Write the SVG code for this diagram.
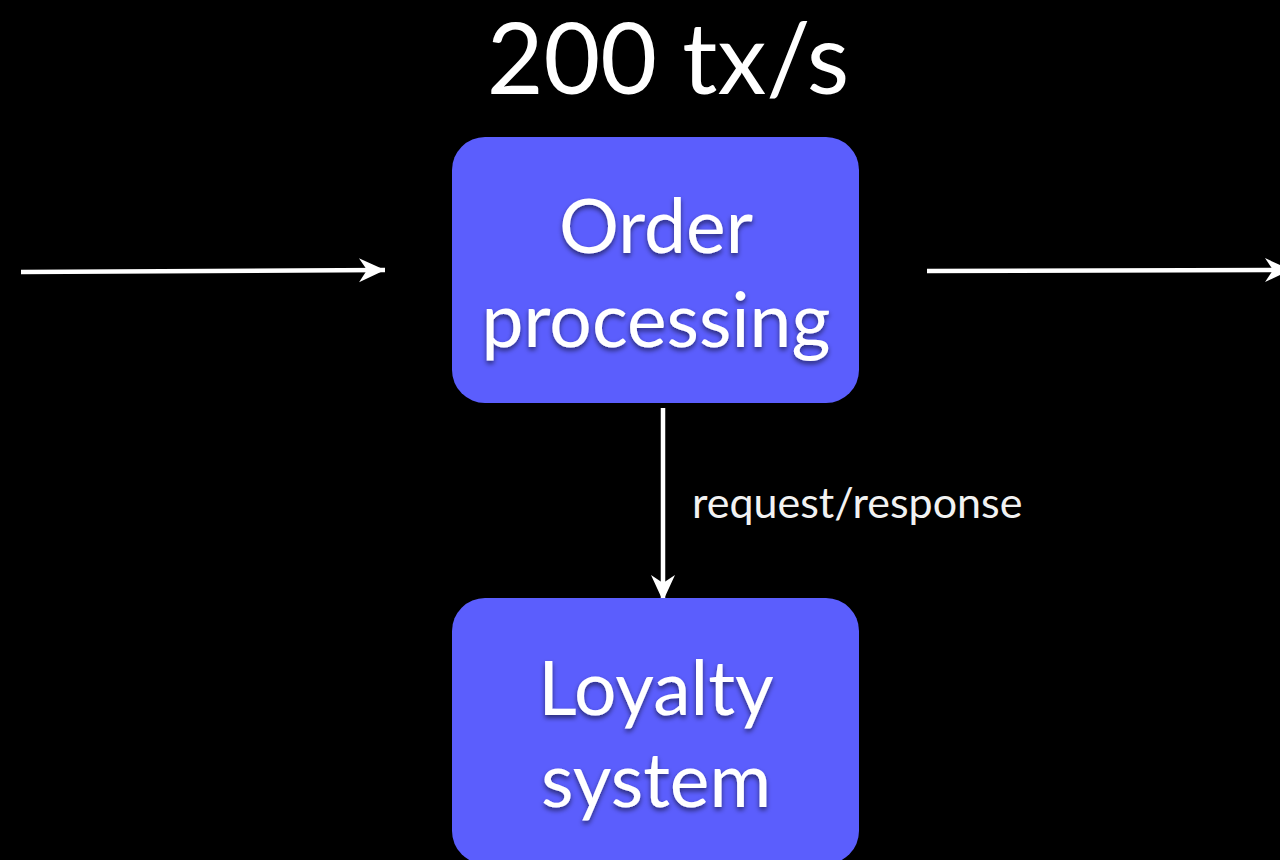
<svg xmlns="http://www.w3.org/2000/svg" width="1280" height="860" viewBox="0 0 1280 860">
  <defs>
    <style>
      .box { fill: #5B5EFD; }
      .label { font-family: Lato, "Open Sans", "Liberation Sans", sans-serif; fill: #ffffff; text-anchor: middle; }
      .node-text { font-size: 75px; filter: url(#textShadow); }
      .title { font-size: 98px; }
      .edge-label { font-size: 43px; text-anchor: start; fill: #f2f2f2; }
      .wire { stroke: #ffffff; stroke-width: 4.5; fill: none; }
    </style>
    <filter id="textShadow" x="-20%" y="-30%" width="140%" height="160%">
      <feDropShadow dx="0" dy="3" stdDeviation="2.5" flood-color="#000000" flood-opacity="0.55"/>
    </filter>
    <marker id="arrow" viewBox="0 0 28 28" refX="27" refY="14" markerWidth="28" markerHeight="28" markerUnits="userSpaceOnUse" orient="auto">
      <path d="M1,2 L27,14 L1,26 L9,14 Z" fill="#ffffff"/>
    </marker>
  </defs>

  <rect width="1280" height="860" fill="#000000"/>

  <text id="title" class="label title" x="668" y="94">200 tx/s</text>

  <g id="connectors">
    <line class="wire" x1="21" y1="272" x2="385" y2="270" marker-end="url(#arrow)"/>
    <line class="wire" x1="927" y1="271" x2="1291" y2="270" marker-end="url(#arrow)"/>
    <line class="wire" x1="663" y1="408" x2="663" y2="601" marker-end="url(#arrow)"/>
    <text class="label edge-label" x="692" y="518">request/response</text>
  </g>

  <g id="order-processing">
    <rect class="box" x="452" y="137" width="407" height="266" rx="33"/>
    <text class="label node-text" x="656" y="253">Order</text>
    <text class="label node-text" x="656" y="347">processing</text>
  </g>

  <g id="loyalty-system">
    <rect class="box" x="452" y="598" width="407" height="266" rx="33"/>
    <text class="label node-text" x="656" y="715">Loyalty</text>
    <text class="label node-text" x="656" y="807">system</text>
  </g>
</svg>
